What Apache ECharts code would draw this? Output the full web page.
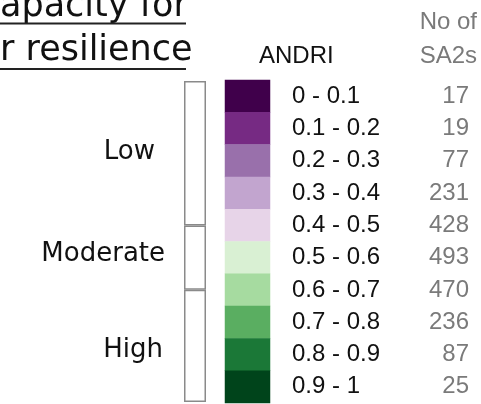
<!DOCTYPE html>
<html><head><meta charset="utf-8">
<script src="https://cdn.jsdelivr.net/npm/echarts@6/dist/echarts.min.js"></script>
<style>html,body{margin:0;padding:0;background:#fff}#c{width:481px;height:404px}</style>
</head><body><div id="c"></div>
<script>
var ranges = ['0 - 0.1','0.1 - 0.2','0.2 - 0.3','0.3 - 0.4','0.4 - 0.5','0.5 - 0.6','0.6 - 0.7','0.7 - 0.8','0.8 - 0.9','0.9 - 1'];
var counts = [17, 19, 77, 231, 428, 493, 470, 236, 87, 25];
var colors = ['#40004b','#762a83','#9970ab','#c2a5cf','#e7d4e8','#d9f0d3','#a6dba0','#5aae61','#1b7837','#00441b'];
var groups = ['Low', 'Moderate', 'High'];
var groupBreaks = [0, 0.45, 0.65, 1];
var titleLines = ['apacity for', 'r resilience'];

var chart = echarts.init(document.getElementById('c'));

var heatData = ranges.map(function (r, i) {
  return { value: [0, i, counts[i]], itemStyle: { color: colors[i] } };
});

var labelTweaks = [
  { distance: 29, offset: [0, -1] },
  { distance: 19, offset: [0, -3] },
  { distance: 21, offset: [0, 4] }
];

var groupSeries = groups.map(function (g, i) {
  return {
    type: 'bar', name: g, stack: 'grp', xAxisIndex: 1, yAxisIndex: 2,
    barWidth: '100%',
    data: [groupBreaks[i + 1] - groupBreaks[i]],
    itemStyle: { color: '#fff', borderColor: '#8a8a8a', borderWidth: 1.5 },
    label: {
      show: true, position: 'left', distance: labelTweaks[i].distance, offset: labelTweaks[i].offset,
      formatter: g, fontFamily: 'DejaVu Sans', fontSize: 26, color: '#111'
    },
    silent: true
  };
});

chart.setOption({
  animation: false,
  backgroundColor: '#fff',
  grid: [
    { left: 225, top: 80, width: 45, height: 323 },
    { left: 184, top: 81, width: 22, height: 321 }
  ],
  xAxis: [
    { type: 'category', gridIndex: 0, data: ['ANDRI'], show: false },
    { type: 'category', gridIndex: 1, data: [''], show: false }
  ],
  yAxis: [
    { type: 'category', gridIndex: 0, data: ranges, inverse: true, position: 'right',
      axisLine: { show: false }, axisTick: { show: false }, splitLine: { show: false },
      axisLabel: { interval: 0, margin: 22, align: 'left', fontFamily: 'Liberation Sans', fontSize: 24, color: '#111' } },
    { type: 'category', gridIndex: 0, data: counts.map(String), inverse: true, position: 'right', offset: 0,
      axisLine: { show: false }, axisTick: { show: false }, splitLine: { show: false },
      axisLabel: { interval: 0, margin: 199, align: 'right', fontFamily: 'Liberation Sans', fontSize: 24, color: '#7a7a7a' } },
    { type: 'value', gridIndex: 1, min: 0, max: 1, inverse: true, show: false }
  ],
  graphic: [
    { type: 'text', x: 0, y: 7, style: { text: titleLines[0], font: '35px "DejaVu Sans"', fill: '#111', verticalAlign: 'middle' } },
    { type: 'line', shape: { x1: 0, y1: 23.5, x2: 186, y2: 23.5 }, style: { stroke: '#222', lineWidth: 2 } },
    { type: 'text', x: 0, y: 51, style: { text: titleLines[1], font: '35px "DejaVu Sans"', fill: '#111', verticalAlign: 'middle' } },
    { type: 'line', shape: { x1: 0, y1: 69, x2: 186, y2: 69 }, style: { stroke: '#222', lineWidth: 2 } },
    { type: 'text', x: 259, y: 56, style: { text: 'ANDRI', font: '24px "Liberation Sans"', fill: '#111', verticalAlign: 'middle' } },
    { type: 'text', x: 477, y: 22, style: { text: 'No of', font: '24px "Liberation Sans"', fill: '#7a7a7a', align: 'right', verticalAlign: 'middle' } },
    { type: 'text', x: 477, y: 56, style: { text: 'SA2s', font: '24px "Liberation Sans"', fill: '#7a7a7a', align: 'right', verticalAlign: 'middle' } }
  ],
  series: [
    { type: 'heatmap', xAxisIndex: 0, yAxisIndex: 0, data: heatData, silent: true, label: { show: false } }
  ].concat(groupSeries)
});
</script></body></html>
